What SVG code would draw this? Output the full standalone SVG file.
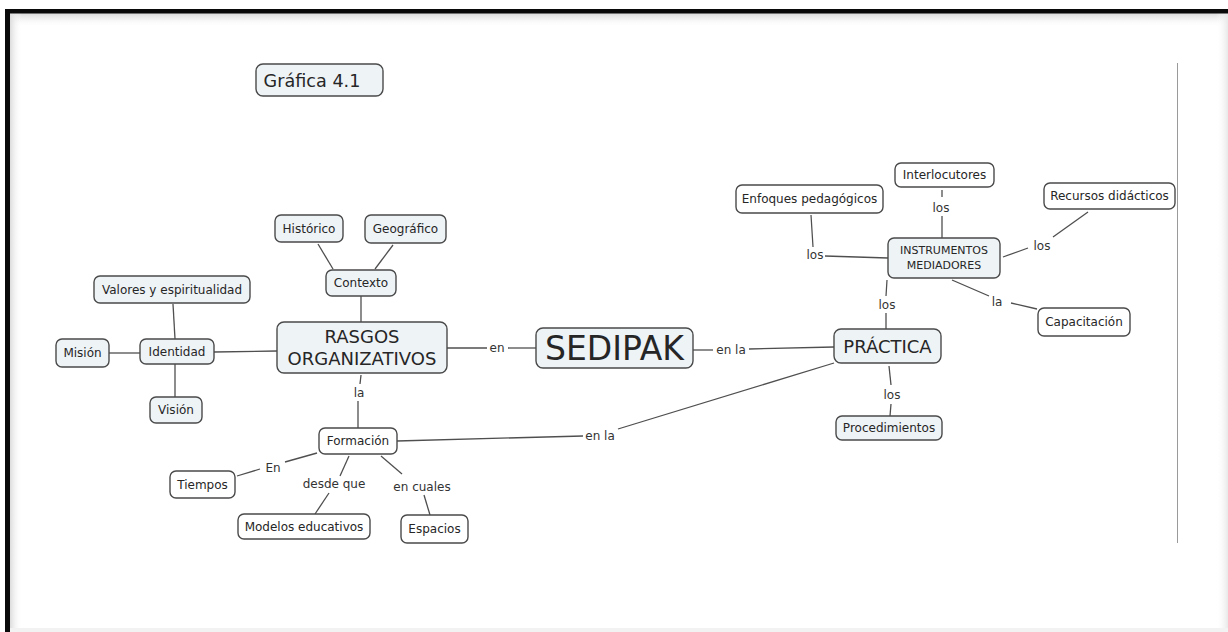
<svg xmlns="http://www.w3.org/2000/svg" width="1228" height="632" viewBox="0 0 1228 632">
<defs>
<linearGradient id="shT" x1="0" y1="0" x2="0" y2="1"><stop offset="0" stop-color="#d8d8d8"/><stop offset="1" stop-color="#ffffff" stop-opacity="0"/></linearGradient>
<linearGradient id="shL" x1="0" y1="0" x2="1" y2="0"><stop offset="0" stop-color="#dcdcdc"/><stop offset="1" stop-color="#ffffff" stop-opacity="0"/></linearGradient>
<linearGradient id="shR" x1="0" y1="0" x2="1" y2="0"><stop offset="0" stop-color="#ffffff" stop-opacity="0"/><stop offset="1" stop-color="#e8e8e8"/></linearGradient>
<style>
.n rect{stroke:#4a4a4a;stroke-width:1.4;fill:#ffffff}
.f rect{fill:#eef3f6}
text{font-family:"DejaVu Sans",Verdana,sans-serif;fill:#262626;text-anchor:middle}
.t12{font-size:12px}
.t11{font-size:11px}
.t18{font-size:18px}
.lbl{font-size:12px;fill:#333}
#conn line{stroke:#4f4f4f;stroke-width:1.3}
</style>
</defs>
<rect x="0" y="0" width="1228" height="632" fill="#ffffff"/>
<!-- frame -->
<rect x="10" y="13" width="1218" height="14" fill="url(#shT)"/>
<rect x="10" y="13" width="12" height="619" fill="url(#shL)"/>
<rect x="1216" y="13" width="12" height="619" fill="url(#shR)"/>
<rect x="10" y="628" width="1218" height="4" fill="#f2f2f2"/>
<rect x="5" y="9" width="1223" height="4.5" fill="#0a0a0a"/>
<rect x="5" y="9" width="5" height="623" fill="#0a0a0a"/>
<line x1="1177.5" y1="63" x2="1177.5" y2="543" stroke="#9a9a9a" stroke-width="1"/>

<g id="conn">
<line x1="318" y1="244" x2="333" y2="269"/>
<line x1="393" y1="245" x2="375" y2="269"/>
<line x1="361" y1="296" x2="361" y2="322"/>
<line x1="173" y1="304" x2="175" y2="339"/>
<line x1="175" y1="364" x2="175" y2="397"/>
<line x1="109" y1="353" x2="140" y2="353"/>
<line x1="214" y1="352" x2="277" y2="351"/>
<line x1="361" y1="375" x2="360" y2="384"/>
<line x1="358" y1="401" x2="358" y2="428"/>
<line x1="447" y1="348" x2="487" y2="348"/>
<line x1="508" y1="348" x2="536" y2="348"/>
<line x1="693" y1="350" x2="713" y2="350"/>
<line x1="749" y1="349" x2="834" y2="347"/>
<line x1="397" y1="441" x2="583" y2="436"/>
<line x1="618" y1="429" x2="834" y2="363"/>
<line x1="317" y1="453" x2="285" y2="462"/>
<line x1="260" y1="469" x2="237" y2="476"/>
<line x1="349" y1="456" x2="340" y2="476"/>
<line x1="329" y1="493" x2="315" y2="514"/>
<line x1="381" y1="456" x2="402" y2="474"/>
<line x1="424" y1="495" x2="430" y2="515"/>
<line x1="889" y1="366" x2="891" y2="385"/>
<line x1="891" y1="404" x2="890" y2="416"/>
<line x1="887" y1="280" x2="886" y2="296"/>
<line x1="886" y1="313" x2="886" y2="329"/>
<line x1="942" y1="190" x2="942" y2="197"/>
<line x1="942" y1="216" x2="942" y2="238"/>
<line x1="811" y1="215" x2="813" y2="247"/>
<line x1="825" y1="256" x2="888" y2="258"/>
<line x1="1088" y1="212" x2="1053" y2="237"/>
<line x1="1028" y1="248" x2="1003" y2="257"/>
<line x1="952" y1="280" x2="989" y2="296"/>
<line x1="1011" y1="303" x2="1037" y2="309"/>
<text class="lbl" x="497" y="352">en</text>
<text class="lbl" x="731" y="354">en la</text>
<text class="lbl" x="600" y="440">en la</text>
<text class="lbl" x="359" y="397">la</text>
<text class="lbl" x="273" y="472">En</text>
<text class="lbl" x="334" y="488">desde que</text>
<text class="lbl" x="422" y="491">en cuales</text>
<text class="lbl" x="892" y="399">los</text>
<text class="lbl" x="887" y="309">los</text>
<text class="lbl" x="941" y="212">los</text>
<text class="lbl" x="815" y="259">los</text>
<text class="lbl" x="1042" y="250">los</text>
<text class="lbl" x="997" y="306">la</text>
</g>

<g id="grafica" class="n f"><rect x="256" y="64" width="127" height="32" rx="7"/><text x="312" y="87" style="font-size:17.6px">Gráfica 4.1</text></g>
<g id="historico" class="n f"><rect x="275" y="215" width="68" height="27" rx="6"/><text class="t12" x="309" y="233">Histórico</text></g>
<g id="geografico" class="n f"><rect x="365" y="215" width="81" height="28" rx="6"/><text class="t12" x="405.5" y="233">Geográfico</text></g>
<g id="contexto" class="n f"><rect x="326" y="270" width="70" height="26" rx="6"/><text class="t12" x="361" y="287">Contexto</text></g>
<g id="valores" class="n f"><rect x="94" y="276" width="156" height="27" rx="6"/><text class="t12" x="172" y="294">Valores y espiritualidad</text></g>
<g id="mision" class="n f"><rect x="56" y="339" width="53" height="28" rx="6"/><text class="t12" x="82.5" y="357">Misión</text></g>
<g id="identidad" class="n f"><rect x="140" y="339" width="74" height="25" rx="6"/><text class="t12" x="177" y="356">Identidad</text></g>
<g id="vision" class="n f"><rect x="150" y="397" width="52" height="26" rx="6"/><text class="t12" x="176" y="414">Visión</text></g>
<g id="rasgos" class="n f"><rect x="277" y="322" width="170" height="51" rx="7"/><text class="t18" x="362" y="343">RASGOS</text><text class="t18" x="362" y="365">ORGANIZATIVOS</text></g>
<g id="sedipak" class="n f"><rect x="536" y="328" width="157" height="40" rx="7"/><text x="614.5" y="360" style="font-size:33px">SEDIPAK</text></g>
<g id="formacion" class="n"><rect x="319" y="428" width="78" height="26" rx="6"/><text class="t12" x="358" y="445">Formación</text></g>
<g id="tiempos" class="n"><rect x="170" y="471" width="65" height="27" rx="6"/><text class="t12" x="202.5" y="489">Tiempos</text></g>
<g id="modelos" class="n"><rect x="238" y="514" width="132" height="25" rx="6"/><text class="t12" x="304" y="531">Modelos educativos</text></g>
<g id="espacios" class="n"><rect x="401" y="515" width="67" height="28" rx="6"/><text class="t12" x="434.5" y="533">Espacios</text></g>
<g id="practica" class="n f"><rect x="834" y="329" width="107" height="34" rx="7"/><text class="t18" x="887.5" y="353">PRÁCTICA</text></g>
<g id="procedimientos" class="n f"><rect x="836" y="416" width="106" height="24" rx="6"/><text class="t12" x="889" y="432">Procedimientos</text></g>
<g id="instrumentos" class="n f"><rect x="888" y="238" width="112" height="40" rx="6"/><text class="t11" x="944" y="254">INSTRUMENTOS</text><text class="t11" x="944" y="269">MEDIADORES</text></g>
<g id="interlocutores" class="n"><rect x="895" y="163" width="99" height="24" rx="6"/><text class="t12" x="944.5" y="179">Interlocutores</text></g>
<g id="enfoques" class="n"><rect x="736" y="185" width="147" height="28" rx="6"/><text class="t12" x="809.5" y="203">Enfoques pedagógicos</text></g>
<g id="recursos" class="n"><rect x="1044" y="183" width="131" height="26" rx="6"/><text class="t12" x="1109.5" y="200">Recursos didácticos</text></g>
<g id="capacitacion" class="n"><rect x="1038" y="308" width="92" height="28" rx="6"/><text class="t12" x="1084" y="326">Capacitación</text></g>
</svg>
